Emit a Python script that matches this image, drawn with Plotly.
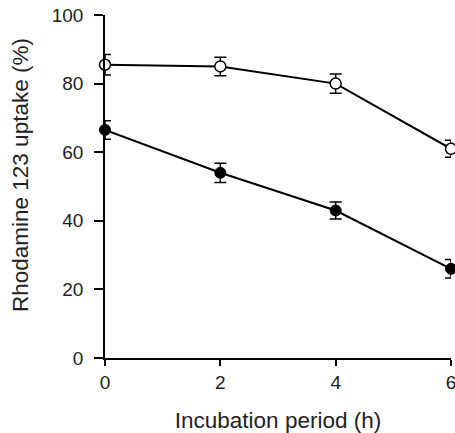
import plotly.graph_objects as go

hours = [0, 2, 4, 6]
open_vals = [85.5, 85.0, 80.0, 61.0]
open_err = [3.0, 2.7, 2.8, 2.5]
filled_vals = [66.5, 54.0, 43.0, 26.0]
filled_err = [2.7, 2.8, 2.5, 2.7]
x_ticks = [0, 2, 4, 6]
y_ticks = [0, 20, 40, 60, 80, 100]

FONT = "Liberation Sans, Arial, sans-serif"
L, R, T, B = 105, 4, 15, 75
W, H = 455, 433

fig = go.Figure()
fig.add_trace(go.Scatter(
    x=hours, y=open_vals, mode="lines+markers",
    line=dict(color="black", width=2),
    marker=dict(symbol="circle", size=11, color="white", line=dict(color="black", width=1.5)),
    error_y=dict(type="data", array=open_err, visible=True, color="black", thickness=1.5, width=6),
    cliponaxis=False, showlegend=False,
))
fig.add_trace(go.Scatter(
    x=hours, y=filled_vals, mode="lines+markers",
    line=dict(color="black", width=2),
    marker=dict(symbol="circle", size=11, color="black", line=dict(color="black", width=1)),
    error_y=dict(type="data", array=filled_err, visible=True, color="black", thickness=1.5, width=6),
    cliponaxis=False, showlegend=False,
))

plot_w = W - L - R
plot_h = H - T - B

fig.update_layout(
    width=W, height=H,
    margin=dict(l=L, r=R, t=T, b=B),
    paper_bgcolor="white", plot_bgcolor="white",
    font=dict(family=FONT, color="#222", size=19),
    xaxis=dict(
        range=[0, 6], tickvals=x_ticks, ticktext=[str(v) for v in x_ticks],
        showgrid=False, zeroline=False, showline=True, linecolor="black", linewidth=1.5,
        ticks="outside", ticklen=6, tickwidth=1.5, tickcolor="black",
        tickfont=dict(size=19, family=FONT, color="#222"),
        automargin=False, ticklabeloverflow="allow",
        title=dict(text="Incubation period (h)", font=dict(size=22.5, family=FONT, color="#222"), standoff=24),
    ),
    yaxis=dict(
        range=[0, 100], tickvals=y_ticks, ticktext=[str(v) for v in y_ticks],
        showgrid=False, zeroline=False, showline=True, linecolor="black", linewidth=1.5,
        ticks="outside", ticklen=9, tickwidth=1.5, tickcolor="black",
        tickfont=dict(size=19, family=FONT, color="#222"),
        ticklabelstandoff=7,
        automargin=False, ticklabeloverflow="allow",
    ),
    annotations=[dict(
        text="Rhodamine 123 uptake (%)", textangle=-90, showarrow=False,
        xref="paper", yref="paper",
        x=(20 - L) / plot_w, y=(H - B - 175) / plot_h,
        xanchor="center", yanchor="middle",
        font=dict(size=22.5, family=FONT, color="#222"),
    )],
)

fig.write_html("out.html", config={"displayModeBar": False},
               post_script="document.body.style.margin='0';")
